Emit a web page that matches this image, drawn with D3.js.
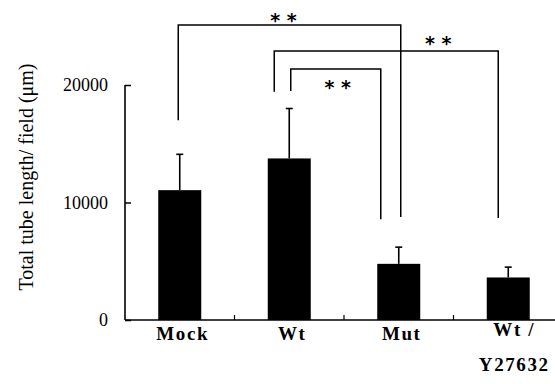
<!DOCTYPE html>
<html><head><meta charset="utf-8">
<script src="https://cdn.jsdelivr.net/npm/d3@7"></script>
<style>html,body{margin:0;padding:0;background:#fff;}</style>
</head><body>
<svg id="c" width="555" height="384"></svg>
<script>
const categories = ["Mock", "Wt", "Mut", "Wt /\nY27632"];
const means = [11050, 13750, 4780, 3620];
const errors = [3050, 4250, 1420, 880];
const yTicks = [0, 10000, 20000];
const comparisons = [
  {from: 0, to: 2, label: "* *"},
  {from: 1, to: 3, label: "* *"},
  {from: 1, to: 2, label: "* *"}
];
// bracket geometry (value units / pixel offsets)
const bracketGeom = [
  {top: 25100, leftBottom: 17000, rightBottom: 8770, dxL: -1.5, dxR: 2, sx: -6, sy: 11},
  {top: 22900, leftBottom: 19430, rightBottom: 8680, dxL: -15, dxR: -10, sx: 52, sy: 14},
  {top: 21360, leftBottom: 19500, rightBottom: 8570, dxL: 1.5, dxR: -18, sx: 2, sy: -12}
];

const svg = d3.select("#c");
const x = d3.scaleBand().domain(d3.range(categories.length)).range([125, 563]).padding(0);
const y = d3.scaleLinear().domain([0, 20000]).range([320, 85]);
const bw = 43;
const cx = i => x(i) + x.bandwidth() / 2;

// bars
svg.selectAll("rect.bar").data(means).join("rect")
  .attr("x", (d, i) => cx(i) - bw / 2).attr("y", d => y(d))
  .attr("width", bw).attr("height", d => y(0) - y(d)).attr("fill", "#000");

// error bars
const eg = svg.append("g").attr("stroke", "#000").attr("stroke-width", 1.6);
means.forEach((m, i) => {
  eg.append("line").attr("x1", cx(i)).attr("x2", cx(i)).attr("y1", y(m)).attr("y2", y(m + errors[i]));
  eg.append("line").attr("x1", cx(i) - 3.5).attr("x2", cx(i) + 3.5).attr("y1", y(m + errors[i])).attr("y2", y(m + errors[i]));
});

// y axis
const yAxis = d3.axisRight(y).tickValues(yTicks).tickSize(6).tickFormat("");
const ya = svg.append("g").attr("transform", "translate(125,0)").call(yAxis);
ya.select(".domain").remove();
ya.selectAll("line").attr("stroke", "#000").attr("stroke-width", 1.5);
svg.append("line").attr("x1", 125).attr("x2", 125).attr("y1", y(20000)).attr("y2", y(0))
  .attr("stroke", "#000").attr("stroke-width", 1.6);
svg.selectAll("text.ytl").data(yTicks).join("text").attr("class", "ytl")
  .attr("x", 108).attr("y", d => y(d)).attr("dy", "0.35em").attr("text-anchor", "end")
  .attr("font-family", "Liberation Serif").attr("font-size", 18).text(d => d);

// x axis
svg.append("line").attr("x1", 125).attr("x2", 555).attr("y1", y(0)).attr("y2", y(0))
  .attr("stroke", "#000").attr("stroke-width", 1.6);
svg.selectAll("line.xt").data(d3.range(1, categories.length)).join("line")
  .attr("x1", d => x(d)).attr("x2", d => x(d)).attr("y1", y(0)).attr("y2", y(0) - 5)
  .attr("stroke", "#000").attr("stroke-width", 1.2);

// category labels
categories.forEach((c, i) => {
  const lines = c.split("\n");
  const t = svg.append("text").attr("text-anchor", "middle")
    .attr("font-family", "Liberation Serif").attr("font-weight", "bold")
    .attr("font-size", 19).attr("letter-spacing", 1.6);
  lines.forEach((l, k) => {
    t.append("tspan").attr("x", cx(i) + (lines.length > 1 ? 6 : 3)).attr("y", (lines.length > 1 ? 336 : 340) + k * 35).text(l);
  });
});

// y label
svg.append("text").attr("transform", "translate(33,177) rotate(-90)")
  .attr("text-anchor", "middle").attr("font-family", "Liberation Serif").attr("font-size", 20)
  .text("Total tube length/ field (\u03bcm)");

// brackets
const bg = svg.append("g").attr("fill", "none").attr("stroke", "#000").attr("stroke-width", 1.5);
comparisons.forEach((c, k) => {
  const g = bracketGeom[k];
  const xl = cx(c.from) + g.dxL, xr = cx(c.to) + g.dxR;
  bg.append("path").attr("d", `M${xl},${y(g.leftBottom)}V${y(g.top)}H${xr}V${y(g.rightBottom)}`);
  svg.append("text").attr("x", (xl + xr) / 2 + g.sx).attr("y", y(g.top) - g.sy).attr("dy", "0.7em")
    .attr("text-anchor", "middle").attr("font-family", "DejaVu Sans").attr("font-weight", "bold")
    .attr("font-size", 19).attr("xml:space", "preserve").text(c.label);
});
</script>
</body></html>
